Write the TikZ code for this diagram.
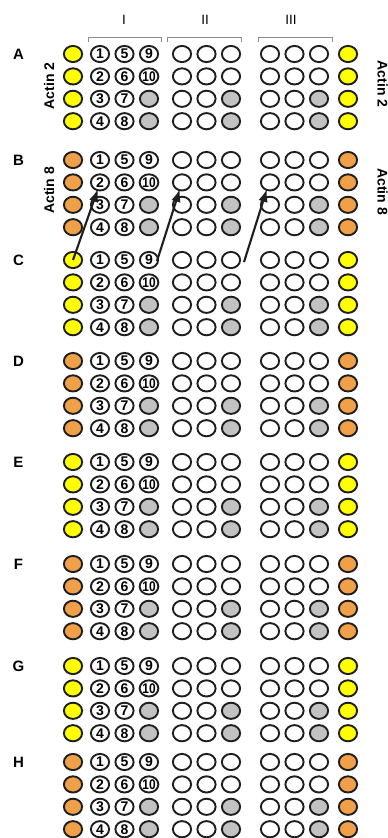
\documentclass[tikz,border=0pt]{standalone}
\usepackage{fontspec}
\setmainfont{Liberation Sans}
\usetikzlibrary{arrows.meta,shapes.geometric}
\definecolor{wellyellow}{HTML}{FFFF00}
\definecolor{wellorange}{HTML}{F0A048}
\definecolor{wellgray}{HTML}{C2C2C2}
\definecolor{wellline}{HTML}{1E1E1E}
\definecolor{bracketgray}{HTML}{8C8C8C}
\newcommand\tenlabel{\scalebox{0.85}[1]{10}}
\begin{document}
\begin{tikzpicture}[x=1pt,y=-1pt,
  well/.style={ellipse,draw=wellline,line width=1.9pt,fill=white,
    minimum width=18.2pt,minimum height=16.2pt,inner sep=0pt,
    font=\fontsize{14}{14}\selectfont\bfseries},
  rowlabel/.style={font=\fontsize{15}{15}\selectfont\bfseries,inner sep=0pt},
  actin/.style={font=\fontsize{14}{14}\selectfont\bfseries,inner sep=0pt},
  header/.style={font=\fontsize{13.5}{13.5}\selectfont,inner sep=0pt},
  bracket/.style={draw=bracketgray,line width=1pt},
  pointer/.style={draw=wellline,line width=2.1pt,-{Latex[length=13pt,width=9.5pt]}}]
\useasboundingbox (0,0) rectangle (388,838);

% column headers with their brackets
\node[header] (hI)   at (124,19.5) {I};
\node[header] (hII)  at (205,19.5) {II};
\node[header] (hIII) at (291,19.5) {III};
\draw[bracket] (88,42) -- (88,37) -- (161,37) -- (161,42);
\draw[bracket] (167,42) -- (167,37) -- (241,37) -- (241,42);
\draw[bracket] (258,42) -- (258,37) -- (332,37) -- (332,42);

% eight blocks of four rows each
\foreach \g/\y/\c in {A/54/wellyellow,B/160/wellorange,C/260/wellyellow,
    D/361/wellorange,E/462/wellyellow,F/564/wellorange,
    G/666/wellyellow,H/762/wellorange} {
  \node[rowlabel] (lab\g) at (18.5,\y) {\g};
  \foreach \r/\na/\nb/\nc/\fc in {1/1/5/9/white,2/2/6/\tenlabel/white,
      3/3/7//wellgray,4/4/8//wellgray} {
    \pgfmathsetmacro\yy{\y+(\r-1)*22.4}
    \node[well,fill=\c] (\g\r-L) at (73,\yy) {};
    \node[well,fill=\c] (\g\r-R) at (348,\yy) {};
    \node[well] (\g\r-1) at (100,\yy) {\na};
    \node[well] (\g\r-2) at (124.5,\yy) {\nb};
    \node[well,fill=\fc] (\g\r-3) at (149,\yy) {\nc};
    \node[well] (\g\r-4) at (182,\yy) {};
    \node[well] (\g\r-5) at (206.5,\yy) {};
    \node[well,fill=\fc] (\g\r-6) at (231,\yy) {};
    \node[well] (\g\r-7) at (270,\yy) {};
    \node[well] (\g\r-8) at (294.5,\yy) {};
    \node[well,fill=\fc] (\g\r-9) at (319,\yy) {};
  }
}

% side labels
\node[actin,rotate=90]  (actL2) at (49,86)  {Actin 2};
\node[actin,rotate=90]  (actL8) at (49,190.5) {Actin 8};
\node[actin,rotate=-90] (actR2) at (382.5,84) {Actin 2};
\node[actin,rotate=-90] (actR8) at (382.5,191.5) {Actin 8};

% arrows from block C into block B
\draw[pointer] (C1-L.center) -- ([shift={(-2,6.5)}]B2-1.center);
\draw[pointer] ([shift={(8,1)}]C1-3.center) -- ([shift={(-2,6.5)}]B2-4.center);
\draw[pointer] ([shift={(13,2)}]C1-6.center) -- ([shift={(-3,6.5)}]B2-7.center);
\end{tikzpicture}
\end{document}
